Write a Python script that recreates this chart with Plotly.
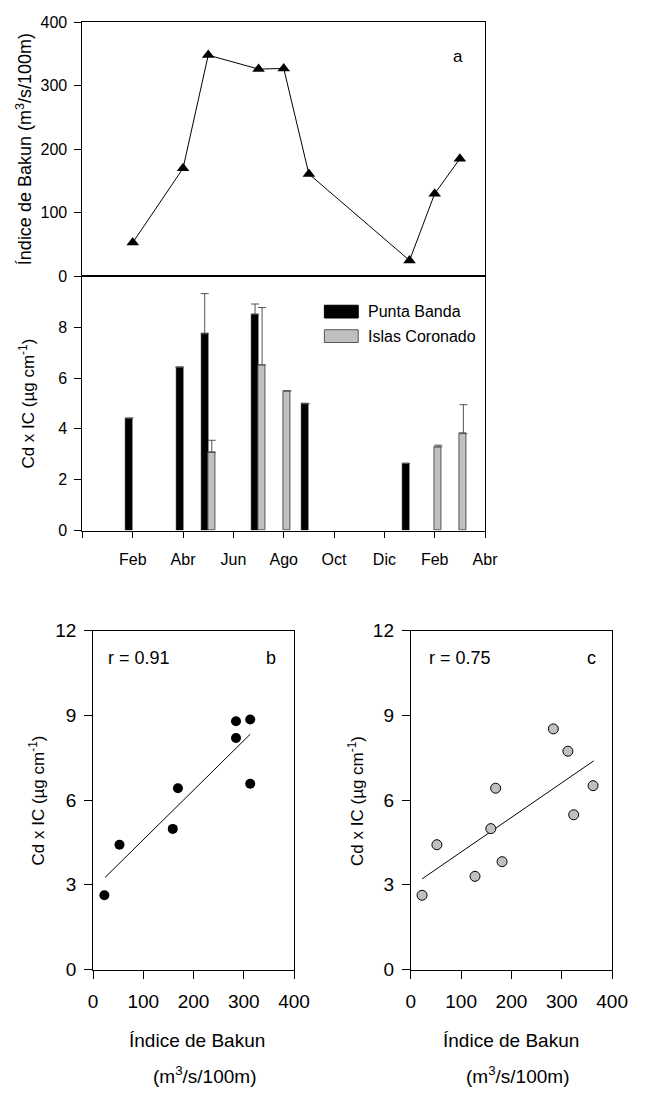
import plotly.graph_objects as go

# ---------------- data ----------------
month_ticks = [0, 2, 4, 6, 8, 10, 12, 14, 16]
month_labels = ["", "Feb", "Abr", "Jun", "Ago", "Oct", "Dic", "Feb", "Abr"]

bakun_months = [2, 4, 5, 7, 8, 9, 13, 14, 15]
bakun_index = [53, 170, 348, 326, 327, 161, 25, 130, 185]

pb_months = [2, 4, 5, 7, 9, 13]
pb_cd = [4.42, 6.43, 7.74, 8.51, 4.99, 2.64]
pb_err = [0, 0, 1.58, 0.40, 0, 0]

ic_months = [5, 7, 8, 14, 15]
ic_cd = [3.07, 6.51, 5.49, 3.29, 3.81]
ic_err = [0.48, 2.26, 0, 0.07, 1.14]

b_bakun = [22.5, 52.6, 158.6, 168.9, 284.4, 284.4, 312.7, 312.7]
b_cd = [2.63, 4.42, 4.98, 6.42, 8.79, 8.20, 8.85, 6.58]
b_fit_x = [23.8, 312.7]
b_fit_y = [3.26, 8.33]

c_bakun = [22.4, 51.9, 127.6, 159.0, 168.6, 181.4, 283.3, 312.2, 323.7, 362.2]
c_cd = [2.63, 4.42, 3.30, 4.99, 6.42, 3.82, 8.52, 7.73, 5.48, 6.51]
c_fit_x = [22.4, 363.5]
c_fit_y = [3.21, 7.39]

# ---------------- layout helpers ----------------
W, H = 652, 1097
FONT = "Liberation Sans, Arial, sans-serif"
GRAY = "#c0c0c0"


def fx(x):
    return x / W


def fy(y):
    return 1 - y / H


fig = go.Figure()

# panel a
fig.add_trace(go.Scatter(
    x=bakun_months, y=bakun_index, mode="lines+markers",
    line=dict(color="black", width=1),
    marker=dict(symbol="triangle-up", size=11, color="black"),
    xaxis="x", yaxis="y", showlegend=False, cliponaxis=False))

# middle panel bars
fig.add_trace(go.Bar(
    x=pb_months, y=pb_cd, width=0.28, offset=-0.28,
    marker=dict(color="black", line=dict(color="black", width=0.5)),
    error_y=dict(type="data", symmetric=False, array=pb_err,
                 arrayminus=[0] * len(pb_err), color="#555", thickness=1, width=4),
    xaxis="x2", yaxis="y2", showlegend=False))
fig.add_trace(go.Bar(
    x=ic_months, y=ic_cd, width=0.28, offset=0,
    marker=dict(color=GRAY, line=dict(color="#555", width=1)),
    error_y=dict(type="data", symmetric=False, array=ic_err,
                 arrayminus=[0] * len(ic_err), color="#555", thickness=1, width=4),
    xaxis="x2", yaxis="y2", showlegend=False))

# panel b
fig.add_trace(go.Scatter(x=b_fit_x, y=b_fit_y, mode="lines",
                         line=dict(color="black", width=1),
                         xaxis="x3", yaxis="y3", showlegend=False))
fig.add_trace(go.Scatter(x=b_bakun, y=b_cd, mode="markers",
                         marker=dict(size=10, color="black"),
                         xaxis="x3", yaxis="y3", showlegend=False))

# panel c
fig.add_trace(go.Scatter(x=c_fit_x, y=c_fit_y, mode="lines",
                         line=dict(color="black", width=1),
                         xaxis="x4", yaxis="y4", showlegend=False))
fig.add_trace(go.Scatter(x=c_bakun, y=c_cd, mode="markers",
                         marker=dict(size=10, color=GRAY, line=dict(color="black", width=1)),
                         xaxis="x4", yaxis="y4", showlegend=False))

axis_common = dict(showgrid=False, zeroline=False, showline=True, linecolor="black",
                   linewidth=1, mirror=True, ticks="outside", tickcolor="black",
                   tickfont=dict(family=FONT, size=16, color="black"))
bottom_tick_font = dict(family=FONT, size=19, color="black")

top_dom_x = [fx(80), fx(496)]

fig.update_layout(
    width=W, height=H, margin=dict(l=0, r=0, t=0, b=0),
    paper_bgcolor="white", plot_bgcolor="white",
    font=dict(family=FONT, color="black"),
    bargap=0,
    xaxis=dict(axis_common, domain=top_dom_x, range=[0, 16], anchor="y",
               showticklabels=False, ticks=""),
    yaxis=dict(axis_common, domain=[fy(271.5), fy(12.3)], range=[0, 400],
               tickvals=[0, 100, 200, 300, 400], ticklen=7, anchor="x",
               ticklabelstandoff=4),
    xaxis2=dict(axis_common, domain=top_dom_x, range=[0, 16], anchor="y2",
                tickvals=month_ticks, ticktext=month_labels, ticklen=6,
                ticklabelstandoff=8),
    yaxis2=dict(axis_common, domain=[fy(530.7), fy(271.5)], range=[0, 10],
                tickvals=[0, 2, 4, 6, 8], ticklen=7, anchor="x2",
                ticklabelstandoff=4),
    xaxis3=dict(axis_common, domain=[fx(91), fx(298.7)], range=[0, 400], anchor="y3",
                tickvals=[0, 100, 200, 300, 400], ticklen=8,
                tickfont=bottom_tick_font, ticklabelstandoff=7),
    yaxis3=dict(axis_common, domain=[fy(978.3), fy(632.7)], range=[0, 12], anchor="x3",
                tickvals=[0, 3, 6, 9, 12], ticklen=8,
                tickfont=bottom_tick_font, ticklabelstandoff=4),
    xaxis4=dict(axis_common, domain=[fx(419.3), fx(627.3)], range=[0, 400], anchor="y4",
                tickvals=[0, 100, 200, 300, 400], ticklen=8,
                tickfont=bottom_tick_font, ticklabelstandoff=7),
    yaxis4=dict(axis_common, domain=[fy(978.3), fy(632.7)], range=[0, 12], anchor="x4",
                tickvals=[0, 3, 6, 9, 12], ticklen=8,
                tickfont=bottom_tick_font, ticklabelstandoff=4),
)

ann = []


def add_text(x, y, text, size, angle=0, xanchor="center"):
    ann.append(dict(x=fx(x), y=fy(y), xref="paper", yref="paper", text=text,
                    showarrow=False, textangle=angle, xanchor=xanchor, yanchor="middle",
                    font=dict(family=FONT, size=size, color="black")))


add_text(20, 141.5, "Índice de Bakun (m<sup>3</sup>/s/100m)", 18, -90)
add_text(23, 401, "Cd x IC (µg cm<sup>-1</sup>)", 17, -90)
add_text(468, 47, "a", 17)

# legend (drawn manually)
add_text(373, 307.5, "Punta Banda", 16, xanchor="left")
add_text(373, 332.5, "Islas Coronado", 16, xanchor="left")
shapes = [
    dict(type="rect", xref="paper", yref="paper", x0=fx(330), x1=fx(365),
         y0=fy(314), y1=fy(301), fillcolor="black", line=dict(color="black", width=1)),
    dict(type="rect", xref="paper", yref="paper", x0=fx(330), x1=fx(365),
         y0=fy(339), y1=fy(326), fillcolor=GRAY, line=dict(color="#555", width=1)),
]

# bottom panels
add_text(104, 661, "r = 0.91", 18, xanchor="left")
add_text(275, 661, "b", 18)
add_text(436, 661, "r = 0.75", 18, xanchor="left")
add_text(606, 661, "c", 18)
add_text(33, 806, "Cd x IC (µg cm<sup>-1</sup>)", 17, -90)
add_text(362, 806, "Cd x IC (µg cm<sup>-1</sup>)", 17, -90)
add_text(198, 1051, "Índice de Bakun", 19)
add_text(206, 1086, "(m<sup>3</sup>/s/100m)", 19)
add_text(523, 1051, "Índice de Bakun", 19)
add_text(530, 1086, "(m<sup>3</sup>/s/100m)", 19)

fig.update_layout(annotations=ann, shapes=shapes)

fig.write_html("out.html")
